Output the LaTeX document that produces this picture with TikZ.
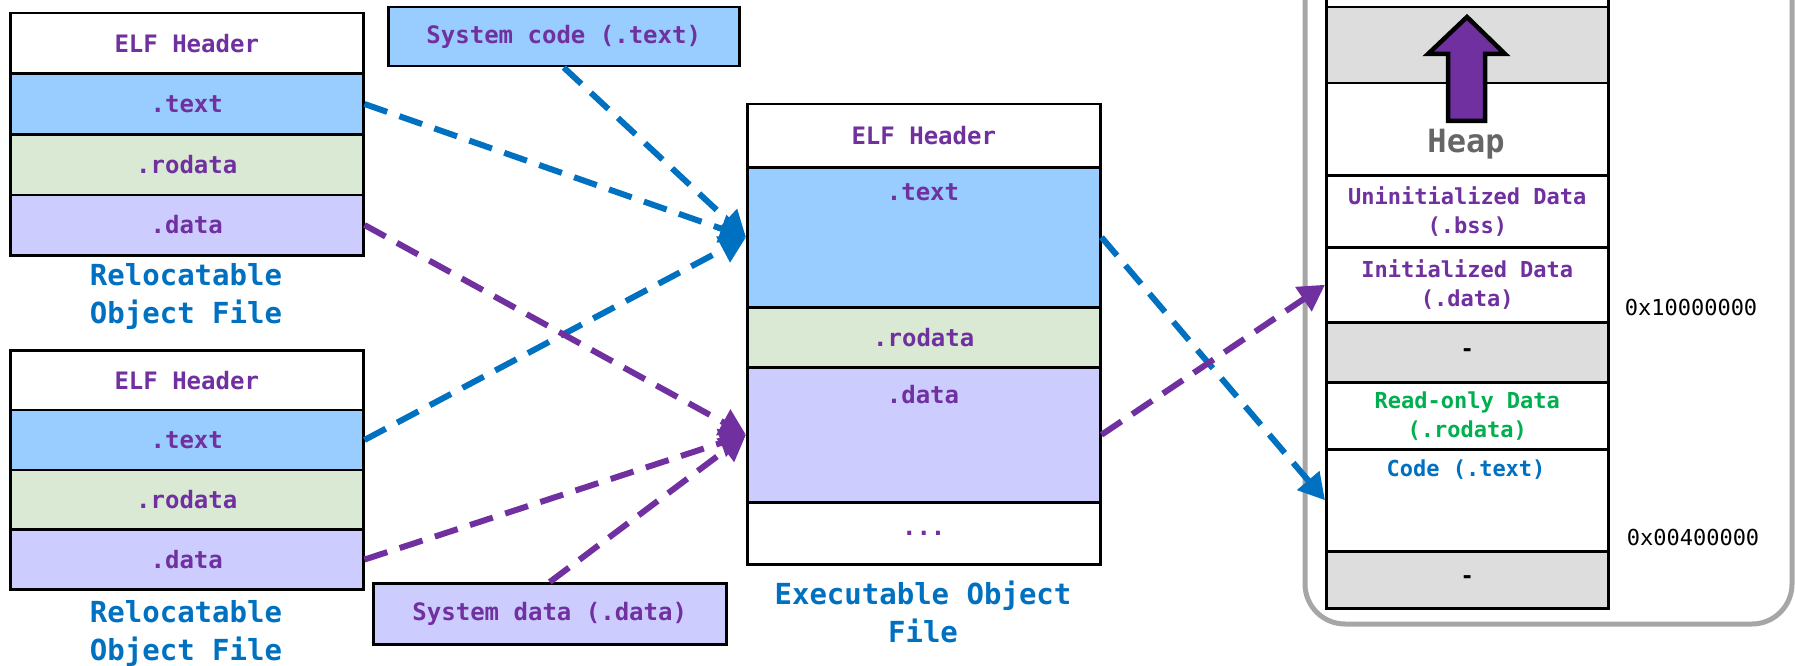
\documentclass[tikz,border=0pt]{standalone}
\usepackage{fontspec}
\setmonofont{DejaVu Sans Mono}
\usetikzlibrary{arrows.meta}
\definecolor{secpurple}{HTML}{7030A0}
\definecolor{secblue}{HTML}{0070C0}
\definecolor{secgreen}{HTML}{00B050}
\definecolor{textfill}{HTML}{99CCFF}
\definecolor{rodatafill}{HTML}{D9E9D3}
\definecolor{datafill}{HTML}{CCCCFF}
\definecolor{gapfill}{HTML}{DDDDDD}
\definecolor{framegray}{HTML}{A6A6A6}
\definecolor{heapgray}{HTML}{666666}
\begin{document}
\begin{tikzpicture}[x=1pt, y=-1pt,
		cell/.style={draw, line width=2.5pt, anchor=north west, inner sep=0pt, fill=white, text=secpurple, font=\fontsize{24}{28}\selectfont\ttfamily\bfseries},
		memcell/.style={cell, minimum width=282pt, align=center, font=\fontsize{22}{29}\selectfont\ttfamily\bfseries},
		lab/.style={text=secpurple, font=\fontsize{24}{28}\selectfont\ttfamily\bfseries},
		title/.style={text=secblue, align=center, font=\fontsize{29}{38}\selectfont\ttfamily\bfseries},
		addr/.style={font=\fontsize{22}{26}\selectfont\ttfamily},
		flow/.style={line width=6pt, dash pattern=on 24pt off 13pt, -{Triangle[length=26pt,width=28pt]}}
	]
	\useasboundingbox (0,0) rectangle (1795,666);
	\foreach \f/\y/\h in {ra/12/60.5, rb/349/59.8}{
		\node[cell, minimum width=353pt, minimum height=\h pt] (\f-h) at (9,\y) {ELF Header};
		\node[cell, minimum width=353pt, minimum height=\h pt, fill=textfill] (\f-t) at (9,\y+\h) {.text};
		\node[cell, minimum width=353pt, minimum height=\h pt, fill=rodatafill] (\f-r) at (9,\y+2*\h) {.rodata};
		\node[cell, minimum width=353pt, minimum height=\h pt, fill=datafill] (\f-d) at (9,\y+3*\h) {.data};
		\node[title] (\f-name) at (186,\y+284) {Relocatable\\Object File};
	}
	\node[cell, minimum width=351pt, minimum height=59pt, fill=textfill] (sys-c) at (387,6) {System code (.text)};
	\node[cell, minimum width=353pt, minimum height=61pt, fill=datafill] (sys-d) at (372,582) {System data (.data)};
	\node[cell, minimum width=353pt, minimum height=63pt] (x-h) at (746,103) {ELF Header};
	\node[cell, minimum width=353pt, minimum height=140pt, fill=textfill] (x-t) at (746,166) {};
	\node[cell, minimum width=353pt, minimum height=60pt, fill=rodatafill] (x-r) at (746,306) {.rodata};
	\node[cell, minimum width=353pt, minimum height=135pt, fill=datafill] (x-d) at (746,366) {};
	\node[cell, minimum width=353pt, minimum height=62pt] (x-e) at (746,501) {...};
	\node[lab] (x-tl) at (923,192) {.text};
	\node[lab] (x-dl) at (923,395) {.data};
	\node[title] (x-name) at (923,612) {Executable Object\\File};
	\draw[line width=5pt, framegray, rounded corners=40pt] (1305,-60) rectangle (1792,624);
	\node[memcell, minimum height=26pt] (m-top) at (1325,-20) {};
	\node[memcell, minimum height=76pt, fill=gapfill] (m-g1) at (1325,6) {};
	\node[memcell, minimum height=92pt] (m-heap) at (1325,82) {};
	\node[memcell, minimum height=72pt] (m-bss) at (1325,174) {Uninitialized Data\\(.bss)};
	\node[memcell, minimum height=75pt] (m-init) at (1325,246) {Initialized Data\\(.data)};
	\node[memcell, minimum height=60pt, fill=gapfill, text=black] (m-g2) at (1325,321) {-};
	\node[memcell, minimum height=67pt, text=secgreen] (m-ro) at (1325,381) {Read-only Data\\(.rodata)};
	\node[memcell, minimum height=102pt] (m-code) at (1325,448) {};
	\node[memcell, minimum height=57pt, fill=gapfill, text=black] (m-g3) at (1325,550) {-};
	\node[text=heapgray, font=\fontsize{32}{36}\selectfont\ttfamily\bfseries] (m-heapl) at (1466,144) {Heap};
	\node[text=secblue, font=\fontsize{22}{26}\selectfont\ttfamily\bfseries] (m-codel) at (1466,470) {Code (.text)};
	\node[addr] (a-data) at (1691,307) {0x10000000};
	\node[addr] (a-text) at (1693,537) {0x00400000};
	\draw[line width=4.5pt, fill=secpurple, line join=miter] (1467,17) -- (1505,54) -- (1485,54) -- (1485,121) -- (1448,121) -- (1448,54) -- (1428,54) -- cycle;
	\draw[flow, secblue] (ra-t.east) -- (x-t.west);
	\draw[flow, secblue] (sys-c.south) -- (x-t.west);
	\draw[flow, secblue] (rb-t.east) -- (x-t.west);
	\draw[flow, secpurple] (ra-d.east) -- (x-d.west);
	\draw[flow, secpurple] (rb-d.east) -- (x-d.west);
	\draw[flow, secpurple] (sys-d.north) -- (x-d.west);
	\draw[flow, secblue] (x-t.east) -- (m-code.west);
	\draw[flow, secpurple] (x-d.east) -- (m-init.west);
\end{tikzpicture}
\end{document}
